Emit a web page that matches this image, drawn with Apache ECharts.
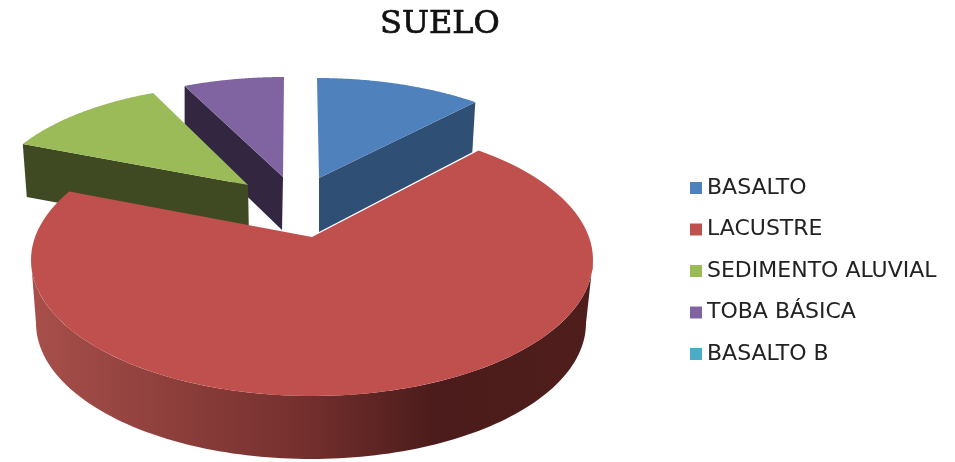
<!DOCTYPE html>
<html>
<head>
<meta charset="utf-8">
<style>html,body{margin:0;padding:0;background:#fff}#c{width:955px;height:462px}</style>
<script src="https://cdn.jsdelivr.net/npm/echarts@6/dist/echarts.min.js"></script>
</head>
<body>
<div id="c"></div>
<script>
var titleText = 'SUELO';
var categories = ['BASALTO', 'LACUSTRE', 'SEDIMENTO ALUVIAL', 'TOBA BÁSICA', 'BASALTO B'];
var shares = [10.1, 73.3, 10.6, 6.0, 0];
var topColors = ['#4f81bd', '#c0504d', '#9bbb59', '#8064a2', '#4bacc6'];
var wallColors = ['#2f4f75', '#000', '#3f4a22', '#332640', '#2a6070'];

// Projected frame of each exploded slice of the 3D pie.
var frames = [
  {cx:317, cy:202, rx:267, ry:124, apex:[319,178], edge:'end',   apexDrop:[0,54],  rimDrop:[-3,50], z:5},
  {cx:312, cy:260, rx:281, ry:136, apex:[312,237], edge:'arc',   bottom:{cx:311, cy:323, rx:275, ry:136}, z:9},
  {cx:250, cy:204.5, rx:263, ry:120, apex:[248,185], edge:'start', apexDrop:[1,53], rimDrop:[4,53], z:3},
  {cx:284, cy:204, rx:270, ry:127, apex:[283,177], edge:'start', apexDrop:[-1,53], rimDrop:[0,50], z:2},
  {cx:317, cy:202, rx:267, ry:124, apex:[319,178], edge:'end',   apexDrop:[0,54],  rimDrop:[-3,50], z:1}
];

var total = shares.reduce(function (a, b) { return a + b; }, 0);
function angleOf(value) { return value / total * Math.PI * 2; }
function rimPoint(f, a) { return [f.cx + f.rx * Math.sin(a), f.cy - f.ry * Math.cos(a)]; }
function arc(f, a0, a1) {
  var pts = [], n = 120;
  for (var i = 0; i <= n; i++) pts.push(rimPoint(f, a0 + (a1 - a0) * i / n));
  return pts;
}

function makeRender(idx) {
  return function (params, api) {
    var value = api.value(0);
    if (!value) return {type: 'group', children: []};
    var before = 0;
    for (var i = 0; i < idx; i++) before += shares[i];
    var a0 = angleOf(before), a1 = angleOf(before + value);
    var f = frames[idx], children = [];
    if (f.edge === 'arc') {
      var lo = Math.PI / 2, hi = Math.PI * 1.5;
      var wall = arc(f, lo, hi).concat(arc(f.bottom, hi, lo));
      children.push({
        type: 'polygon',
        shape: {points: wall},
        style: {fill: new echarts.graphic.LinearGradient(0, 0, 1, 0, [
          {offset: 0, color: '#a84f4b'},
          {offset: 0.48, color: '#75302e'},
          {offset: 0.72, color: '#4b1c1b'},
          {offset: 1, color: '#4f1e1c'}
        ])}
      });
    } else {
      var a = f.edge === 'end' ? a1 : a0;
      var rim = rimPoint(f, a);
      children.push({
        type: 'polygon',
        shape: {points: [
          f.apex, rim,
          [rim[0] + f.rimDrop[0], rim[1] + f.rimDrop[1]],
          [f.apex[0] + f.apexDrop[0], f.apex[1] + f.apexDrop[1]]
        ]},
        style: {fill: wallColors[idx]}
      });
    }
    children.push({
      type: 'polygon',
      shape: {points: [f.apex].concat(arc(f, a0, a1))},
      style: {fill: topColors[idx]}
    });
    return {type: 'group', children: children};
  };
}

var series = categories.map(function (name, i) {
  return {
    type: 'custom',
    name: name,
    coordinateSystem: 'none',
    renderItem: makeRender(i),
    data: [[shares[i]]],
    z: frames[i].z,
    silent: true,
    clip: false,
    animation: false,
    itemStyle: {color: topColors[i]},
    encode: {value: 0}
  };
});

var chart = echarts.init(document.getElementById('c'), null, {renderer: 'canvas'});
chart.setOption({
  animation: false,
  backgroundColor: '#ffffff',
  title: {
    text: titleText,
    left: 380, top: 9,
    padding: 0,
    textStyle: {fontFamily: 'DejaVu Serif', fontSize: 32, fontWeight: 'normal', color: '#111', textBorderColor: '#111', textBorderWidth: 0.7}
  },
  legend: {
    data: categories,
    orient: 'vertical',
    left: 690, top: 177,
    padding: 0,
    icon: 'rect',
    itemWidth: 12, itemHeight: 12,
    itemGap: 19.5,
    textStyle: {fontFamily: 'DejaVu Sans', fontSize: 22, color: '#222', padding: [3,0,0,0]},
    selectedMode: false
  },
  series: series
});
</script>
</body>
</html>
